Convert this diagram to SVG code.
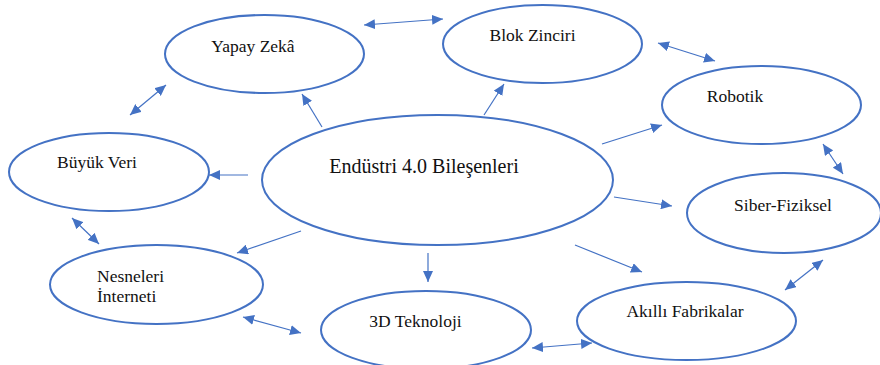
<svg xmlns="http://www.w3.org/2000/svg" width="880" height="365" viewBox="0 0 880 365">
<style>
.node ellipse{fill:#fff;stroke:#4472C4;stroke-width:2}
.node text{font-family:'Liberation Serif','DejaVu Serif',serif;font-size:17.5px;fill:#111}
#connectors line{stroke:#4472C4;stroke-width:1.2}
.one{marker-end:url(#ah)}
.two{marker-start:url(#ah);marker-end:url(#ah)}
</style>
<defs>
<marker id="ah" markerUnits="userSpaceOnUse" markerWidth="11" markerHeight="10" refX="11" refY="5" orient="auto-start-reverse" viewBox="0 0 11 10">
<path d="M0,0 L11,5 L0,10 z" fill="#4472C4"/>
</marker>
</defs>
<rect width="880" height="365" fill="#fff"/>
<g id="n-yapay" class="node"><ellipse cx="264.5" cy="54" rx="99.5" ry="39"/><text x="253" y="52" text-anchor="middle" font-family="Liberation Serif, serif">Yapay Zekâ</text></g>
<g id="n-blok" class="node"><ellipse cx="542.5" cy="44" rx="99.5" ry="39"/><text x="532.5" y="41" text-anchor="middle" font-family="Liberation Serif, serif">Blok Zinciri</text></g>
<g id="n-robotik" class="node"><ellipse cx="761.5" cy="105" rx="99.5" ry="39"/><text x="735" y="102" text-anchor="middle" font-family="Liberation Serif, serif">Robotik</text></g>
<g id="n-buyuk" class="node"><ellipse cx="109" cy="172" rx="100" ry="39"/><text x="97" y="168" text-anchor="middle" font-family="Liberation Serif, serif">Büyük Veri</text></g>
<g id="n-center" class="node"><ellipse cx="437.5" cy="180" rx="175.5" ry="65"/><text x="424" y="173" text-anchor="middle" font-family="Liberation Serif, serif" style="font-size:20px">Endüstri 4.0 Bileşenleri</text></g>
<g id="n-siber" class="node"><ellipse cx="784" cy="213" rx="97" ry="40"/><text x="783" y="211" text-anchor="middle" font-family="Liberation Serif, serif">Siber-Fiziksel</text></g>
<g id="n-nesneleri" class="node"><ellipse cx="156.5" cy="284.5" rx="106.5" ry="39.5"/><text x="97" y="282" font-family="Liberation Serif, serif">Nesneleri</text><text x="97" y="302" font-family="Liberation Serif, serif">İnterneti</text></g>
<g id="n-3d" class="node"><ellipse cx="426" cy="330" rx="105" ry="39"/><text x="415.5" y="327" text-anchor="middle" font-family="Liberation Serif, serif">3D Teknoloji</text></g>
<g id="n-akilli" class="node"><ellipse cx="686.5" cy="321" rx="109.5" ry="39"/><text x="685" y="317" text-anchor="middle" font-family="Liberation Serif, serif">Akıllı Fabrikalar</text></g>
<g id="connectors">
<line class="two" x1="364" y1="25" x2="443" y2="19"/>
<line class="two" x1="130" y1="115" x2="166" y2="85"/>
<line class="one" x1="322" y1="127" x2="302" y2="94"/>
<line class="one" x1="248" y1="175" x2="209" y2="175"/>
<line class="one" x1="484" y1="115" x2="504" y2="84"/>
<line class="two" x1="658" y1="43" x2="715" y2="61"/>
<line class="one" x1="602" y1="144" x2="662" y2="125"/>
<line class="two" x1="823" y1="144" x2="843" y2="174"/>
<line class="one" x1="614" y1="197" x2="672" y2="206"/>
<line class="two" x1="823" y1="260" x2="785" y2="290"/>
<line class="one" x1="575" y1="245" x2="642" y2="272"/>
<line class="one" x1="428" y1="253" x2="428" y2="282"/>
<line class="two" x1="532" y1="348" x2="592" y2="343"/>
<line class="one" x1="301" y1="231" x2="237" y2="253"/>
<line class="two" x1="243" y1="317" x2="301" y2="333"/>
<line class="two" x1="72" y1="218" x2="99" y2="244"/>
</g>
</svg>
